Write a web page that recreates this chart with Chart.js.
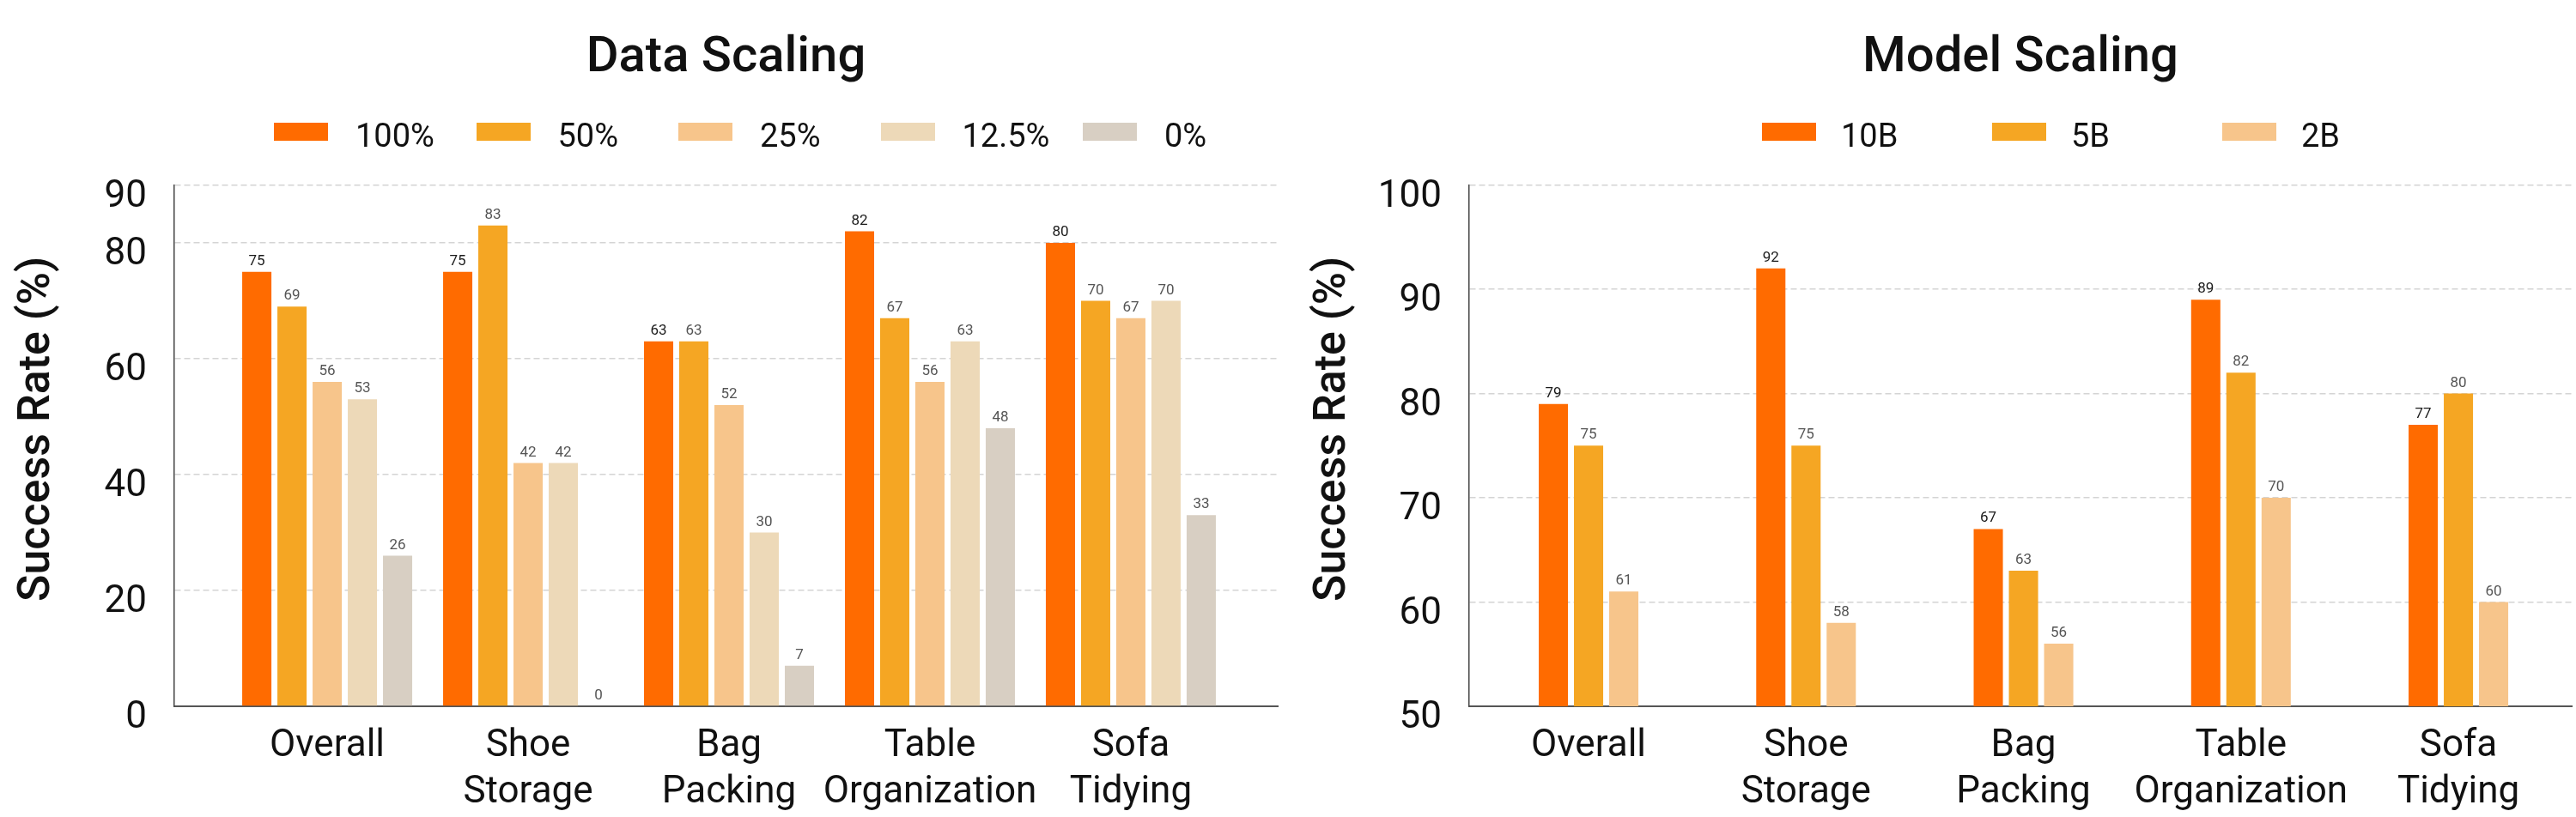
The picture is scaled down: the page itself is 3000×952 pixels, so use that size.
<!DOCTYPE html>
<html>
<head>
<meta charset="utf-8">
<title>Data Scaling / Model Scaling</title>
<script src="https://cdn.jsdelivr.net/npm/chart.js@4.4.1/dist/chart.umd.min.js"></script>
<style>
  html, body { margin: 0; padding: 0; background: #fff; }
  body { width: 3000px; height: 952px; position: relative; overflow: hidden; font-family: Roboto, "Noto Sans", sans-serif; }
  .panel { position: absolute; top: 0; width: 1500px; height: 952px; }
  .legend { position: absolute; top: 143px; display: flex; }
  .legend-item { display: flex; align-items: center; height: 21px; }
  .legend-box { width: 63px; height: 21px; flex: none; }
  .legend-text { font-size: 38px; color: #111; position: relative; top: 4px; white-space: nowrap; }
</style>
</head>
<body>
<div class="panel" style="left:0"><canvas id="dataChart" width="1500" height="952"></canvas></div>
<div class="panel" style="left:1500px"><canvas id="modelChart" width="1500" height="952"></canvas></div>
<div class="legend" id="dataLegend" style="left:319px"></div>
<div class="legend" id="modelLegend" style="left:2052px"></div>

<script>
// ── Shared categories ──
const categories = ['Overall', ['Shoe', 'Storage'], ['Bag', 'Packing'], ['Table', 'Organization'], ['Sofa', 'Tidying']];

// ── Data scaling (left panel) ──
const dataSeries = ['100%', '50%', '25%', '12.5%', '0%'];
const data100  = [75, 75, 63, 82, 80];
const data50   = [69, 83, 63, 67, 70];
const data25   = [56, 42, 52, 56, 67];
const data12_5 = [53, 42, 30, 63, 70];
const data0    = [26, 0, 7, 48, 33];
const dataTicks = [0, 20, 40, 60, 80, 90];

// ── Model scaling (right panel) ──
const modelSeries = ['10B', '5B', '2B'];
const model10B = [79, 92, 67, 89, 77];
const model5B  = [75, 75, 63, 82, 80];
const model2B  = [61, 58, 56, 70, 60];
const modelTicks = [50, 60, 70, 80, 90, 100];

const palette = ['#FF6B00', '#F5A623', '#F7C58B', '#EDD9B8', '#D8CFC3'];
const FONT = 'Roboto, "Noto Sans", sans-serif';

// value labels drawn above every bar
const barLabels = {
    id: 'barLabels',
    afterDatasetsDraw(chart) {
        const ctx = chart.ctx;
        ctx.save();
        ctx.font = '17px ' + FONT;
        ctx.textAlign = 'center';
        ctx.textBaseline = 'alphabetic';
        chart.data.datasets.forEach((ds, di) => {
            ctx.fillStyle = di === 0 ? '#1a1a1a' : '#555';
            chart.getDatasetMeta(di).data.forEach((bar, i) => {
                ctx.fillText(String(ds.data[i].y), bar.x, bar.y - 8);
            });
        });
        ctx.restore();
    }
};

function makeChart(canvasId, opts) {
    const datasets = opts.series.map((name, k) => ({
        label: name,
        data: opts.values[k].map((v, i) => ({ x: i, y: v })),
        backgroundColor: palette[k],
        borderWidth: 0,
        categoryPercentage: opts.catPct,
        barPercentage: 0.83
    }));

    return new Chart(document.getElementById(canvasId), {
        type: 'bar',
        data: { datasets },
        plugins: [barLabels],
        options: {
            responsive: false,
            animation: false,
            devicePixelRatio: 1,
            layout: { padding: { left: 0, right: opts.padRight, top: 0, bottom: 0 } },
            plugins: {
                legend: { display: false },
                tooltip: { enabled: false },
                title: {
                    display: true,
                    text: opts.title,
                    fullSize: false,
                    color: '#111',
                    font: { family: FONT, size: 58, weight: '500' },
                    padding: { top: 34, bottom: 112 }
                }
            },
            scales: {
                x: {
                    type: 'linear',
                    offset: false,
                    min: opts.xMin,
                    max: opts.xMax,
                    grid: { display: false, drawTicks: false, offset: false },
                    border: { display: true, color: '#555', width: 2 },
                    afterBuildTicks: s => { s.ticks = categories.map((_, i) => ({ value: i })); },
                    afterFit: s => { s.height = 129; },
                    ticks: {
                        autoSkip: false,
                        maxRotation: 0,
                        padding: 20,
                        color: '#111',
                        font: { family: FONT, size: 44, lineHeight: 1.23 },
                        callback: v => categories[v]
                    }
                },
                y: {
                    min: opts.yTicks[0],
                    max: opts.yTicks[opts.yTicks.length - 1],
                    afterBuildTicks: s => { s.ticks = opts.yTicks.map(v => ({ value: v })); },
                    afterFit: s => { s.width = opts.yWidth; },
                    grid: { color: '#d4d4d4', lineWidth: 1.5, drawTicks: false },
                    border: { display: true, color: '#444', width: 1.5, dash: [7, 4] },
                    ticks: {
                        padding: 32,
                        labelOffset: 14,
                        color: '#111',
                        font: { family: FONT, size: 44 }
                    },
                    title: {
                        display: true,
                        // leading spaces nudge the rotated title up to where the original sits
                        text: '   Success Rate (%)',
                        color: '#111',
                        font: { family: FONT, size: 52, weight: '500' },
                        padding: { top: opts.titlePad, bottom: 0 }
                    }
                }
            }
        }
    });
}

// HTML legend with equal-width columns, built from the chart's datasets
function buildLegend(chart, elId, colWidth, gap) {
    const el = document.getElementById(elId);
    chart.data.datasets.forEach(ds => {
        const item = document.createElement('div');
        item.className = 'legend-item';
        item.style.width = colWidth + 'px';
        const box = document.createElement('span');
        box.className = 'legend-box';
        box.style.background = ds.backgroundColor;
        const txt = document.createElement('span');
        txt.className = 'legend-text';
        txt.style.marginLeft = gap + 'px';
        txt.textContent = ds.label;
        item.appendChild(box);
        item.appendChild(txt);
        el.appendChild(item);
    });
}

const dataChart = makeChart('dataChart', {
    title: 'Data Scaling',
    series: dataSeries,
    values: [data100, data50, data25, data12_5, data0],
    yTicks: dataTicks,
    xMin: -0.761, xMax: 4.731,
    catPct: 0.876,
    yWidth: 203, padRight: 12, titlePad: 13
});

const modelChart = makeChart('modelChart', {
    title: 'Model Scaling',
    series: modelSeries,
    values: [model10B, model5B, model2B],
    yTicks: modelTicks,
    xMin: -0.549, xMax: 4.521,
    catPct: 0.4857,
    yWidth: 211, padRight: 5, titlePad: 22
});

buildLegend(dataChart, 'dataLegend', 235.5, 32);
buildLegend(modelChart, 'modelLegend', 268, 29);
</script>
</body>
</html>
